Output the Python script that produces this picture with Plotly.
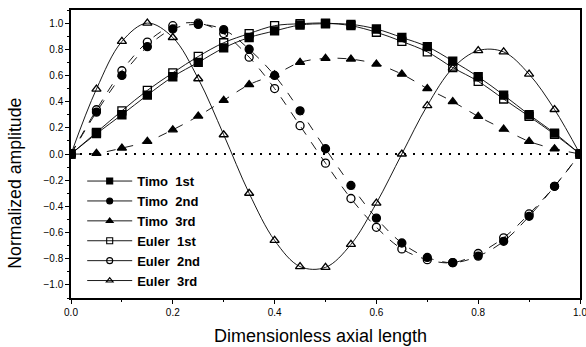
import plotly.graph_objects as go

x = [0.0, 0.05, 0.1, 0.15, 0.2, 0.25, 0.3, 0.35, 0.4, 0.45, 0.5,
     0.55, 0.6, 0.65, 0.7, 0.75, 0.8, 0.85, 0.9, 0.95, 1.0]

timo_1st = [0.0, 0.155, 0.30, 0.45, 0.59, 0.70, 0.81, 0.89, 0.94, 0.985, 0.995,
            0.99, 0.955, 0.89, 0.82, 0.71, 0.59, 0.45, 0.30, 0.16, 0.0]
timo_2nd = [0.0, 0.32, 0.60, 0.82, 0.955, 0.99, 0.95, 0.80, 0.60, 0.33, 0.04,
            -0.24, -0.49, -0.68, -0.79, -0.83, -0.78, -0.667, -0.476, -0.247, 0.0]
timo_3rd = [0.0, 0.005, 0.045, 0.096, 0.185, 0.29, 0.41, 0.53, 0.605, 0.70, 0.73,
            0.725, 0.687, 0.61, 0.50, 0.40, 0.287, 0.19, 0.096, 0.04, 0.0]
euler_1st = [0.0, 0.165, 0.33, 0.486, 0.62, 0.745, 0.85, 0.92, 0.98, 0.995, 1.0,
             0.98, 0.93, 0.86, 0.78, 0.66, 0.555, 0.42, 0.287, 0.15, 0.0]
euler_2nd = [0.0, 0.338, 0.636, 0.855, 0.98, 1.0, 0.92, 0.74, 0.50, 0.216, -0.07,
             -0.34, -0.56, -0.725, -0.807, -0.83, -0.76, -0.64, -0.458, -0.247, 0.0]
euler_3rd = [0.0, 0.496, 0.86, 1.0, 0.89, 0.575, 0.147, -0.30, -0.66, -0.86, -0.866,
             -0.69, -0.375, 0.0, 0.37, 0.656, 0.79, 0.78, 0.61, 0.34, 0.0]

names = ["Timo\u00a0\u00a01st", "Timo\u00a0\u00a02nd", "Timo\u00a0\u00a03rd",
         "Euler\u00a0\u00a01st", "Euler\u00a0\u00a02nd", "Euler\u00a0\u00a03rd"]
series = [timo_1st, timo_2nd, timo_3rd, euler_1st, euler_2nd, euler_3rd]
symbols = ["square", "circle", "triangle-up",
           "square-open", "circle-open", "triangle-up-open"]
dashes = ["solid", "dash", "dash", "solid", "dash", "solid"]

x_title = "Dimensionless axial length"
y_title = "Normalized amplitude"

FONT = "Liberation Sans, Arial, sans-serif"

fig = go.Figure()
for name, ys, sym, dsh in zip(names, series, symbols, dashes):
    fig.add_trace(go.Scatter(
        x=x, y=ys, name=name, mode="lines+markers", showlegend=False,
        line=dict(color="black", width=0.9, shape="spline", dash=dsh),
        marker=dict(symbol=sym, size=8, color="black",
                    line=dict(color="black", width=1.3)),
    ))
# legend entries with smaller marker glyphs (as in the reference legend)
for name, sym in zip(names, symbols):
    fig.add_trace(go.Scatter(
        x=[None], y=[None], name=name, mode="lines+markers", showlegend=True,
        line=dict(color="black", width=0.9),
        marker=dict(symbol=sym, size=6, color="black",
                    line=dict(color="black", width=1.1)),
    ))

fig.add_shape(type="line", x0=0, x1=1, y0=0, y1=0, xref="x", yref="y",
              line=dict(color="black", width=2, dash="2px,7px"), layer="below")

axis_common = dict(showline=True, linecolor="black", linewidth=1.5, mirror=True,
                   ticks="outside", ticklen=4, tickwidth=1.2, tickcolor="black",
                   showgrid=False, zeroline=False, automargin=False,
                   ticklabeloverflow="allow",
                   tickfont=dict(family=FONT, size=10, color="black"))

fig.update_layout(
    width=586, height=347,
    margin=dict(l=71, r=6, t=10, b=49),
    paper_bgcolor="white", plot_bgcolor="white",
    font=dict(family=FONT, color="black"),
    showlegend=True,
    legend=dict(x=0.022, y=0.458, xanchor="left", yanchor="top",
                bgcolor="rgba(0,0,0,0)", borderwidth=0,
                font=dict(family=FONT, size=13, color="black", weight="bold"),
                tracegroupgap=0, itemwidth=45),
    xaxis=dict(range=[0, 1], dtick=0.2, tickformat=".1f",
               minor=dict(dtick=0.1, ticks="outside", ticklen=2, tickcolor="black"),
               **axis_common),
    yaxis=dict(range=[-1.1, 1.1], dtick=0.2, tickformat=".1f",
               minor=dict(dtick=0.1, ticks="outside", ticklen=2, tickcolor="black"),
               **axis_common),
    annotations=[
        dict(text=x_title, xref="paper", yref="paper", x=0.491, y=-0.131,
             xanchor="center", yanchor="middle", showarrow=False,
             font=dict(family=FONT, size=18, color="black")),
        dict(text=y_title, xref="paper", yref="paper", x=-0.11, y=0.397,
             xanchor="center", yanchor="middle", showarrow=False, textangle=-90,
             font=dict(family=FONT, size=17.7, color="black")),
    ],
)

fig.write_html("out.html")
